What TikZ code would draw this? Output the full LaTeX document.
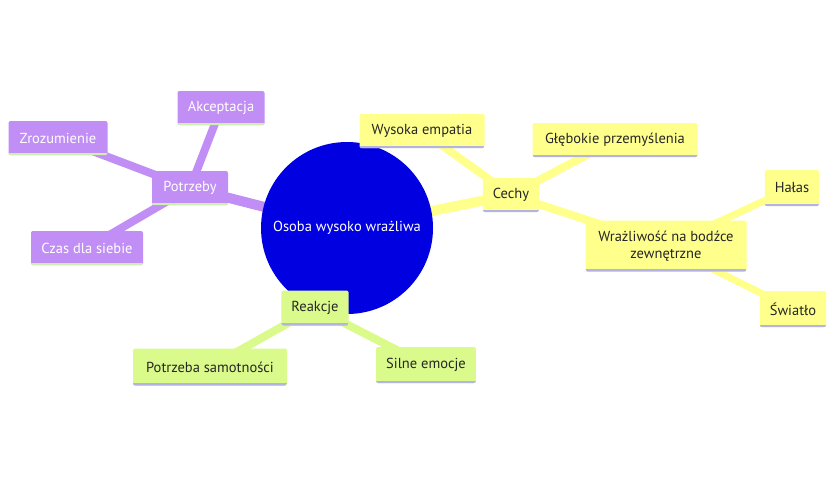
\documentclass[tikz,border=0pt]{standalone}
\usepackage{fontspec}
\setmainfont{PT Sans}
\definecolor{pfill}{RGB}{192,142,245}
\definecolor{yfill}{RGB}{255,255,140}
\definecolor{gfill}{RGB}{218,250,140}
\definecolor{rootblue}{RGB}{0,0,225}
\definecolor{lav}{RGB}{180,180,228}
\definecolor{lgreen}{RGB}{205,240,175}
\tikzset{
  box/.style={rounded corners=2pt, minimum height=34pt, inner xsep=10pt, font=\fontsize{14.5}{16}\selectfont, align=center},
  ubar/.style={path picture={\draw[line width=5pt,#1] (path picture bounding box.south west) -- (path picture bounding box.south east);}},
  pbox/.style={box, fill=pfill, text=white, ubar=lgreen},
  ybox/.style={box, fill=yfill, text=black!85, ubar=lav},
  gbox/.style={box, fill=gfill, text=black!85, ubar=lav},
  pedge/.style={draw=pfill, line width=#1},
  yedge/.style={draw=yfill, line width=#1},
  gedge/.style={draw=gfill, line width=#1},
}
\begin{document}
\begin{tikzpicture}[x=1pt,y=-1pt]
\useasboundingbox[fill=white] (0,0) rectangle (840,480);
\coordinate (croot) at (347,228);
\coordinate (cpot) at (190,188);
\coordinate (cakc) at (221,108);
\coordinate (czro) at (58,138);
\coordinate (ccza) at (87,248);
\coordinate (cce) at (511,195);
\coordinate (cwe) at (422,131);
\coordinate (cgp) at (615,140);
\coordinate (cwr) at (666,246);
\coordinate (cha) at (792,188);
\coordinate (csw) at (793,309);
\coordinate (cre) at (315,308);
\coordinate (cps) at (210,367);
\coordinate (cse) at (426,365);
% edges
\path[pedge=10pt] (croot) -- (cpot);
\path[pedge=8pt] (cpot) -- (cakc);
\path[pedge=8pt] (cpot) -- (czro);
\path[pedge=8pt] (cpot) -- (ccza);
\path[yedge=10pt] (croot) -- (cce);
\path[yedge=8pt] (cce) -- (cwe);
\path[yedge=8pt] (cce) -- (cgp);
\path[yedge=8pt] (cce) -- (cwr);
\path[yedge=7pt] (cwr) -- (cha);
\path[yedge=7pt] (cwr) -- (csw);
\path[gedge=10pt] (croot) -- (cre);
\path[gedge=8pt] (cre) -- (cps);
\path[gedge=8pt] (cre) -- (cse);
% root
\node[circle, fill=rootblue, minimum size=172pt, text=white, font=\fontsize{14.5}{16}\selectfont] (root) at (croot) {Osoba wysoko wrażliwa};
% purple
\node[pbox, minimum width=76pt] (pot) at (cpot) {Potrzeby};
\node[pbox, minimum width=87pt] (akc) at (cakc) {Akceptacja};
\node[pbox, minimum width=99pt] (zro) at (czro) {Zrozumienie};
\node[pbox, minimum width=112pt] (cza) at (ccza) {Czas dla siebie};
% yellow
\node[ybox, minimum width=56pt] (ce) at (cce) {Cechy};
\node[ybox, minimum width=125pt] (we) at (cwe) {Wysoka empatia};
\node[ybox, minimum width=165pt] (gp) at (cgp) {Głębokie przemyślenia};
\node[ybox, minimum width=161pt, minimum height=51pt, font=\fontsize{14.5}{17}\selectfont] (wr) at (cwr) {Wrażliwość na bodźce\\zewnętrzne};
\node[ybox, minimum width=54pt, minimum height=36pt] (ha) at (cha) {Hałas};
\node[ybox, minimum width=64pt, minimum height=36pt] (sw) at (csw) {Światło};
% green
\node[gbox, minimum width=67pt, minimum height=35pt] (re) at (cre) {Reakcje};
\node[gbox, minimum width=154pt, minimum height=37pt] (ps) at (cps) {Potrzeba samotności};
\node[gbox, minimum width=99pt, minimum height=36pt] (se) at (cse) {Silne emocje};
\end{tikzpicture}
\end{document}
